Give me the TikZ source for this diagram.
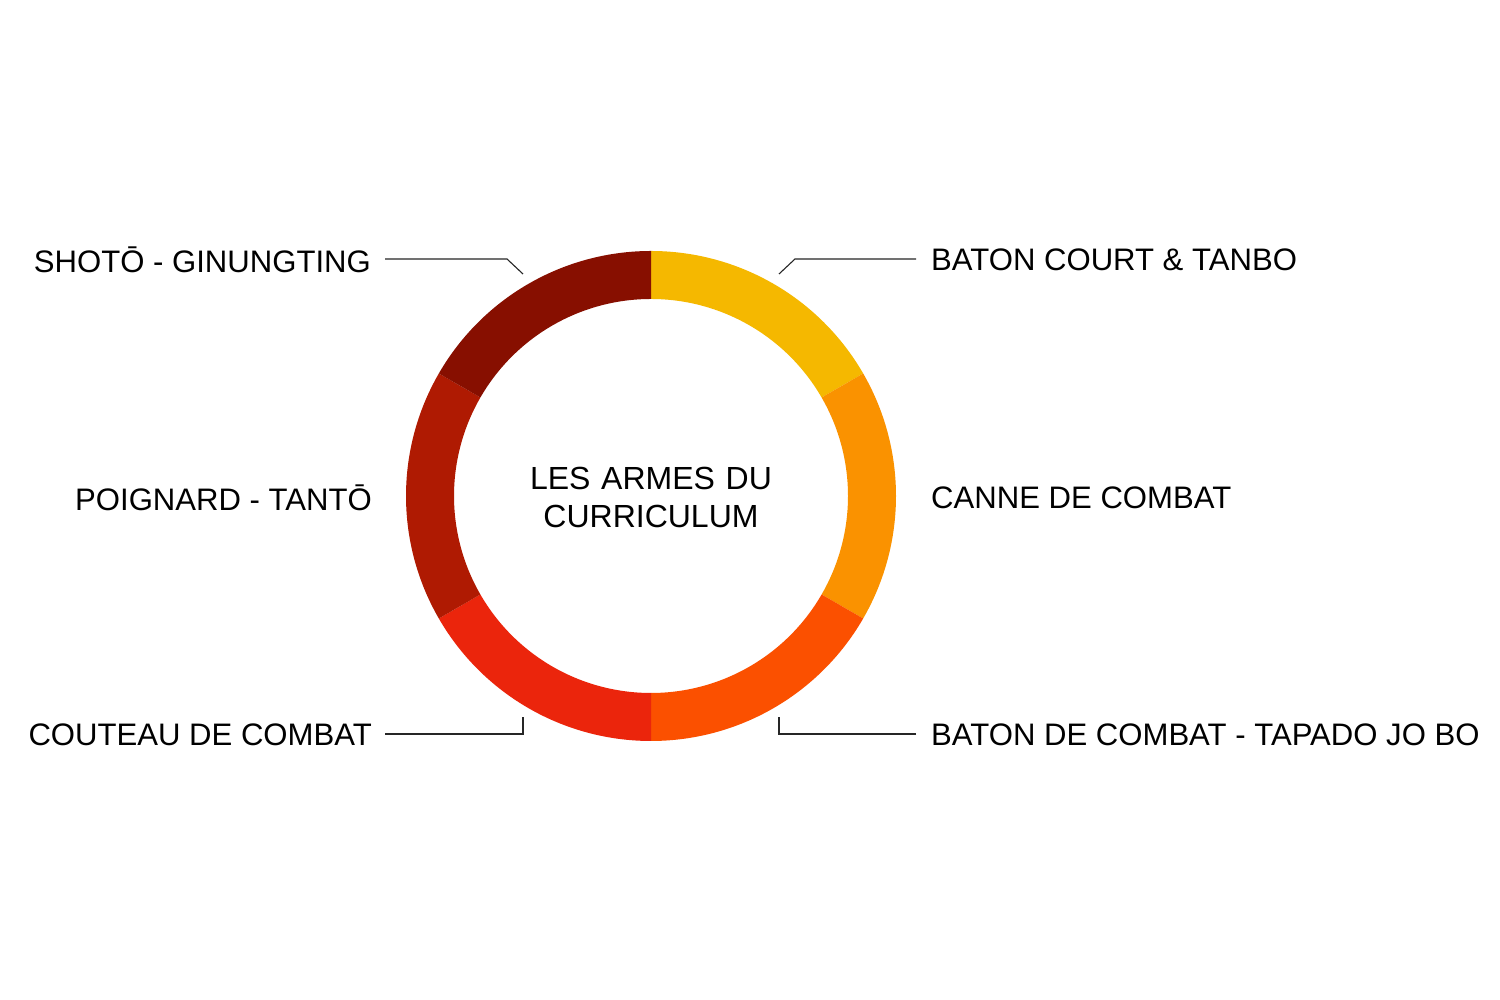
\documentclass[tikz,border=0pt]{standalone}
\usepackage{fontspec}
\setmainfont{Liberation Sans}
\usetikzlibrary{calc}
\definecolor{cYellow}{HTML}{F5B800}
\definecolor{cOrange}{HTML}{FA9200}
\definecolor{cOrRed}{HTML}{FB5000}
\definecolor{cRed}{HTML}{EB250C}
\definecolor{cDkRed}{HTML}{AF1A02}
\definecolor{cDarkest}{HTML}{870F00}
\begin{document}
\begin{tikzpicture}[x=1pt,y=1pt,
  lbl/.style={font=\fontsize{31.1}{36}\selectfont, inner sep=0pt},
  ttl/.style={font=\fontsize{32}{38}\selectfont, inner sep=0pt, align=center, text width=400pt},
  leader/.style={draw=black!85, line width=1.1pt}]
\fill[white] (0,0) rectangle (1500,1000);
\useasboundingbox (0,0) rectangle (1500,1000);
\coordinate (c) at (651,504);
\def\Ro{245}\def\Ri{197}
\foreach \a/\b/\col in {30/90/cYellow,-30/30/cOrange,-90/-30/cOrRed,-150/-90/cRed,150/210/cDkRed,90/150/cDarkest}{
  \fill[\col] ($(c)+(\a:\Ro)$) arc[start angle=\a,end angle=\b,radius=\Ro]
     -- ($(c)+(\b:\Ri)$) arc[start angle=\b,end angle=\a,radius=\Ri] -- cycle;
}
\node[ttl] (title) at (651,503) {LES ARMES DU\\CURRICULUM};
% labels
\node[lbl, anchor=east] (shoto) at (371,740) {SHOTŌ - GINUNGTING};
\node[lbl, anchor=east] (poign) at (372,502) {POIGNARD - TANTŌ};
\node[lbl, anchor=east] (couteau) at (372,265) {COUTEAU DE COMBAT};
\node[lbl, anchor=west] (baton) at (931,740) {BATON COURT \& TANBO};
\node[lbl, anchor=west] (canne) at (931,502) {CANNE DE COMBAT};
\node[lbl, anchor=west] (tapado) at (931,265) {BATON DE COMBAT - TAPADO JO BO};
% leader endpoints
\coordinate (shotoA) at (385,741);
\coordinate (shotoB) at (507,741);
\coordinate (shotoC) at (523,726);
\coordinate (batonA) at (916,741);
\coordinate (batonB) at (795,741);
\coordinate (batonC) at (779,726);
\coordinate (coutA) at (385,266);
\coordinate (coutB) at (523,266);
\coordinate (coutC) at (523,283);
\coordinate (tapA) at (916,266);
\coordinate (tapB) at (779,266);
\coordinate (tapC) at (779,283);
\draw[leader] (shotoA) -- (shotoB) -- (shotoC);
\draw[leader] (batonA) -- (batonB) -- (batonC);
\draw[leader] (coutA) -- (coutB) -- (coutC);
\draw[leader] (tapA) -- (tapB) -- (tapC);
\end{tikzpicture}
\end{document}
